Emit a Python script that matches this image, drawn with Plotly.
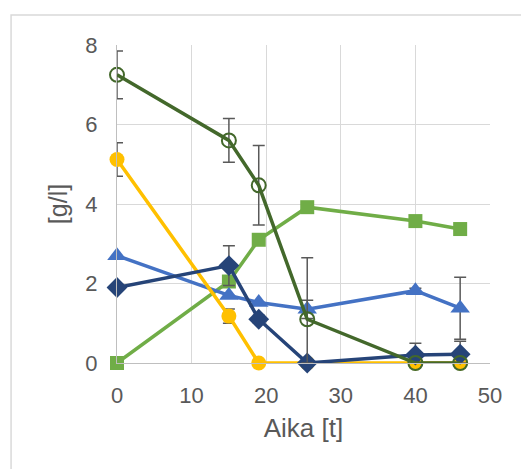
import plotly.graph_objects as go

# Data
time = [0, 15, 19, 25.5, 40, 46]

green_sq = [0, 2.05, 3.1, 3.92, 3.57, 3.37]
blue_tri = [2.7, 1.7, 1.52, 1.35, 1.82, 1.38]
navy_dia = [1.9, 2.45, 1.1, 0, 0.2, 0.22]
yellow_circ = [5.12, 1.18, 0, 0, 0, 0]
dkgreen_circ = [7.25, 5.6, 4.47, 1.1, 0, 0]

err_blue = [0, 0, 0, 0.23, 0.06, 0.78]
err_navy = [0, 0.5, 0.1, 0, 0.3, 0.33]
err_yellow = [0.42, 0.18, 0, 0, 0, 0]
err_dkgreen_plus = [0.6, 0.55, 1.0, 1.55, 0, 0]
err_dkgreen_minus = [0.6, 0.55, 1.0, 1.1, 0, 0]

x_ticks = [0, 10, 20, 30, 40, 50]
y_ticks = [0, 2, 4, 6, 8]

ERR = dict(color="#595959", thickness=1.5, width=6)

fig = go.Figure()

fig.add_trace(go.Scatter(
    x=time, y=green_sq, mode="lines+markers",
    line=dict(color="#70AD47", width=3.5),
    marker=dict(symbol="square", size=14, color="#70AD47"),
    cliponaxis=False, showlegend=False))

fig.add_trace(go.Scatter(
    x=time, y=blue_tri, mode="lines+markers",
    line=dict(color="#4472C4", width=3.5),
    marker=dict(symbol="triangle-up", size=17, color="#4472C4"),
    error_y=dict(type="data", array=err_blue, symmetric=True, **ERR),
    cliponaxis=False, showlegend=False))

fig.add_trace(go.Scatter(
    x=time, y=yellow_circ, mode="lines+markers",
    line=dict(color="#FFC000", width=3.5),
    marker=dict(symbol="circle", size=15, color="#FFC000"),
    error_y=dict(type="data", array=err_yellow, symmetric=True, **ERR),
    cliponaxis=False, showlegend=False))

fig.add_trace(go.Scatter(
    x=time, y=navy_dia, mode="lines+markers",
    line=dict(color="#264478", width=3.5),
    marker=dict(symbol="diamond", size=16, color="#264478"),
    error_y=dict(type="data", array=err_navy, symmetric=True, **ERR),
    cliponaxis=False, showlegend=False))

fig.add_trace(go.Scatter(
    x=time, y=dkgreen_circ, mode="lines+markers",
    line=dict(color="#43682B", width=3.5),
    marker=dict(symbol="circle-open", size=14, color="#43682B", line=dict(width=2)),
    error_y=dict(type="data", array=err_dkgreen_plus, arrayminus=err_dkgreen_minus,
                 symmetric=False, **ERR),
    cliponaxis=False, showlegend=False))

fig.update_layout(
    width=521, height=469,
    margin=dict(l=117, r=31, t=45, b=106),
    paper_bgcolor="white", plot_bgcolor="white",
    font=dict(family="Liberation Sans, Arial, sans-serif", color="#595959"),
    shapes=[dict(type="rect", xref="paper", yref="paper",
                 x0=-0.284, y0=-0.5, x1=1.5, y1=1.094,
                 line=dict(color="#D9D9D9", width=1.5), layer="below")],
)

fig.update_xaxes(
    range=[0, 50], tickvals=x_ticks, ticktext=[str(v) for v in x_ticks],
    showgrid=True, gridcolor="#D9D9D9", gridwidth=1.3,
    showline=True, linecolor="#BFBFBF", linewidth=1.3, zeroline=False,
    ticks="", ticklabelstandoff=12,
    tickfont=dict(size=22, color="#595959"),
    title=dict(text="Aika [t]", font=dict(size=26, color="#595959"), standoff=12),
)
fig.update_yaxes(
    range=[0, 8], tickvals=y_ticks, ticktext=[str(v) for v in y_ticks],
    showgrid=True, gridcolor="#D9D9D9", gridwidth=1.3,
    showline=True, linecolor="#BFBFBF", linewidth=1.3, zeroline=False,
    ticks="", ticklabelstandoff=14,
    tickfont=dict(size=22, color="#595959"),
    title=dict(text="[g/l]", font=dict(size=25, color="#595959"), standoff=10),
)

fig.write_html("out.html")
